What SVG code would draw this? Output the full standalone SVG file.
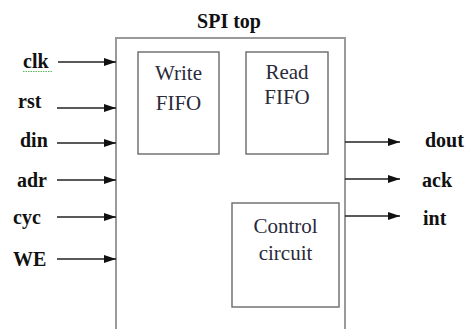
<svg xmlns="http://www.w3.org/2000/svg" width="467" height="329" viewBox="0 0 467 329">
<defs>
<marker id="ah" viewBox="0 0 12 8" refX="12" refY="4" markerWidth="12" markerHeight="8" markerUnits="userSpaceOnUse" orient="auto">
<path d="M0,0 L12,4 L0,8 Z" fill="#111"/>
</marker>
</defs>
<rect width="467" height="329" fill="#fff"/>
<g id="spi-top">
<path d="M116,329 L116,38 L345,38 L345,329" fill="none" stroke="#9a9a9a" stroke-width="2"/>
<text font-family="'Liberation Serif'" font-weight="bold" font-size="20" fill="#111" x="229" y="28" text-anchor="middle">SPI top</text>
</g>
<g id="write-fifo">
<rect x="138" y="52" width="81" height="102" fill="#fff" stroke="#6a6a6a" stroke-width="1.4"/>
<text font-family="'Liberation Serif'" font-size="21" fill="#2a2a3a" text-anchor="middle" x="178.5" y="80">Write</text>
<text font-family="'Liberation Serif'" font-size="21" fill="#2a2a3a" text-anchor="middle" x="178.5" y="110">FIFO</text>
</g>
<g id="read-fifo">
<rect x="246" y="52" width="82" height="102" fill="#fff" stroke="#6a6a6a" stroke-width="1.4"/>
<text font-family="'Liberation Serif'" font-size="21" fill="#2a2a3a" text-anchor="middle" x="287" y="79">Read</text>
<text font-family="'Liberation Serif'" font-size="21" fill="#2a2a3a" text-anchor="middle" x="287" y="104">FIFO</text>
</g>
<g id="control-circuit">
<rect x="232" y="203" width="107" height="104" fill="#fff" stroke="#6a6a6a" stroke-width="1.4"/>
<text font-family="'Liberation Serif'" font-size="21" fill="#2a2a3a" text-anchor="middle" x="285.5" y="233">Control</text>
<text font-family="'Liberation Serif'" font-size="21" fill="#2a2a3a" text-anchor="middle" x="285.5" y="260">circuit</text>
</g>
<g id="inputs">
<text font-family="'Liberation Serif'" font-weight="bold" font-size="20" fill="#111" x="23" y="68">clk</text>
<path d="M23,71.5 L52,71.5" stroke="#5cb85c" stroke-width="1.2" stroke-dasharray="1.5,1"/>
<text font-family="'Liberation Serif'" font-weight="bold" font-size="20" fill="#111" x="18" y="108">rst</text>
<text font-family="'Liberation Serif'" font-weight="bold" font-size="20" fill="#111" x="20" y="147">din</text>
<text font-family="'Liberation Serif'" font-weight="bold" font-size="20" fill="#111" x="17" y="187">adr</text>
<text font-family="'Liberation Serif'" font-weight="bold" font-size="20" fill="#111" x="13" y="224">cyc</text>
<text font-family="'Liberation Serif'" font-weight="bold" font-size="20" fill="#111" x="13" y="266">WE</text>
</g>
<g id="outputs">
<text font-family="'Liberation Serif'" font-weight="bold" font-size="20" fill="#111" x="425" y="147">dout</text>
<text font-family="'Liberation Serif'" font-weight="bold" font-size="20" fill="#111" x="422" y="187">ack</text>
<text font-family="'Liberation Serif'" font-weight="bold" font-size="20" fill="#111" x="423" y="225">int</text>
</g>
<g id="connectors" stroke="#222" stroke-width="1.5" fill="none">
<line marker-end="url(#ah)" x1="58" y1="62" x2="116" y2="62"/>
<line marker-end="url(#ah)" x1="57" y1="108" x2="116" y2="108"/>
<line marker-end="url(#ah)" x1="57" y1="143" x2="116" y2="143"/>
<line marker-end="url(#ah)" x1="57" y1="180" x2="116" y2="180"/>
<line marker-end="url(#ah)" x1="57" y1="217" x2="116" y2="217"/>
<line marker-end="url(#ah)" x1="57" y1="259" x2="116" y2="259"/>
<line marker-end="url(#ah)" x1="345" y1="142" x2="400" y2="142"/>
<line marker-end="url(#ah)" x1="345" y1="179" x2="400" y2="179"/>
<line marker-end="url(#ah)" x1="345" y1="216" x2="400" y2="216"/>
</g>
</svg>
